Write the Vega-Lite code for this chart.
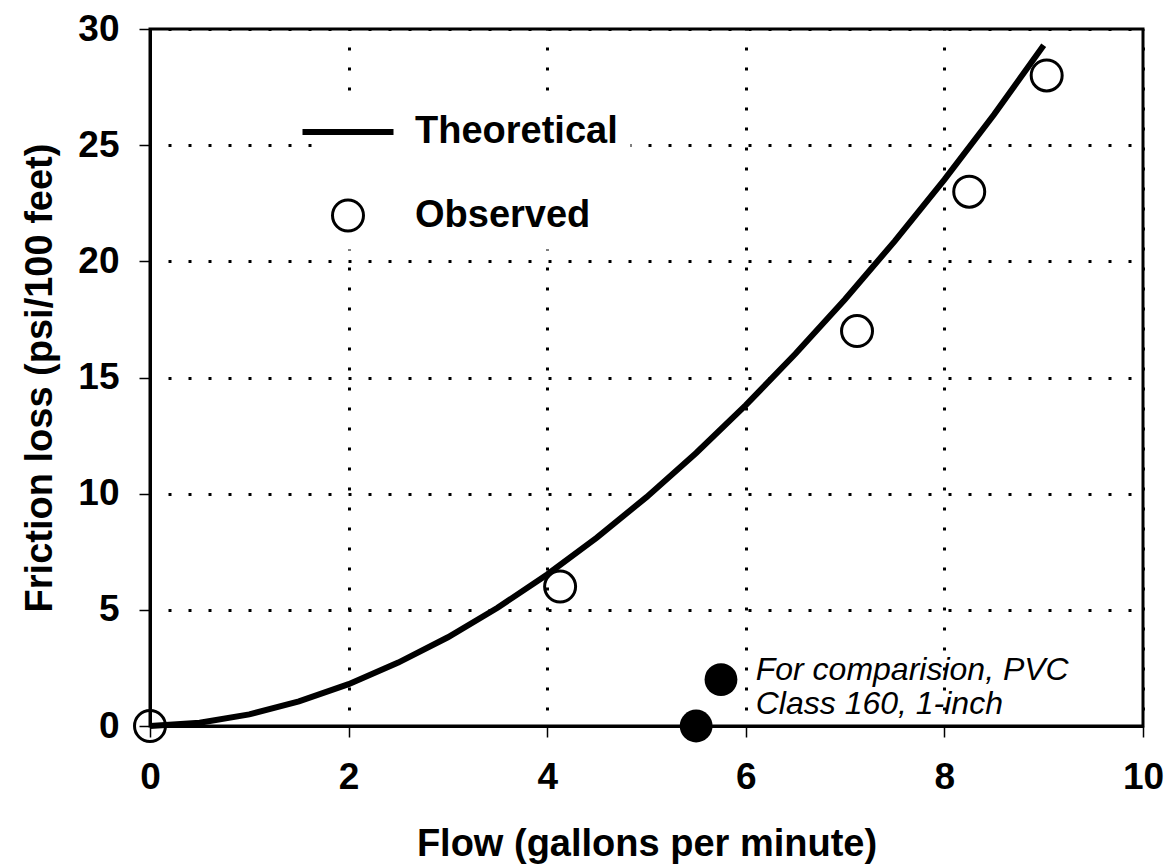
{
  "$schema": "https://vega.github.io/schema/vega-lite/v6.json",
  "width": 993,
  "height": 697,
  "autosize": {"type": "none"},
  "padding": {"left": 150, "top": 29, "right": 23, "bottom": 139},
  "background": "white",
  "config": {
    "view": {"stroke": "black", "strokeWidth": 3},
    "font": "Liberation Sans",
    "axis": {
      "grid": true,
      "gridColor": "black",
      "gridWidth": 3,
      "gridDash": [3, 17],
      "gridDashOffset": 2,
      "gridOpacity": 1,
      "domainColor": "black",
      "domainWidth": 3,
      "tickColor": "black",
      "tickWidth": 1.5,
      "tickSize": 11,
      "labelFont": "Liberation Sans",
      "labelFontWeight": "bold",
      "labelFontSize": 37,
      "labelColor": "black",
      "labelOverlap": false,
      "labelFlush": false,
      "titleFont": "Liberation Sans",
      "titleFontWeight": "bold",
      "titleFontSize": 38,
      "titleColor": "black"
    }
  },
  "datasets": {
    "curve": [
      {"flow": 0, "loss": 0},
      {"flow": 0.5, "loss": 0.14},
      {"flow": 1, "loss": 0.5},
      {"flow": 1.5, "loss": 1.06},
      {"flow": 2, "loss": 1.8},
      {"flow": 2.5, "loss": 2.73},
      {"flow": 3, "loss": 3.82},
      {"flow": 3.5, "loss": 5.09},
      {"flow": 4, "loss": 6.52},
      {"flow": 4.5, "loss": 8.11},
      {"flow": 5, "loss": 9.85},
      {"flow": 5.5, "loss": 11.75},
      {"flow": 6, "loss": 13.81},
      {"flow": 6.5, "loss": 16.02},
      {"flow": 7, "loss": 18.37},
      {"flow": 7.5, "loss": 20.87},
      {"flow": 8, "loss": 23.52},
      {"flow": 8.5, "loss": 26.32},
      {"flow": 9, "loss": 29.3}
    ],
    "obs": [
      {"flow": 0, "loss": 0, "series": "Observed"},
      {"flow": 4.13, "loss": 6, "series": "Observed"},
      {"flow": 7.12, "loss": 17, "series": "Observed"},
      {"flow": 8.25, "loss": 23, "series": "Observed"},
      {"flow": 9.03, "loss": 28, "series": "Observed"}
    ],
    "pvc": [
      {"flow": 5.5, "loss": 0},
      {"flow": 5.75, "loss": 2}
    ],
    "note": [
      {"flow": 6.1, "loss": 2.4, "text": "For comparision, PVC"},
      {"flow": 6.1, "loss": 0.95, "text": "Class 160, 1-inch"}
    ]
  },
  "layer": [
    {
      "data": {"name": "curve"},
      "mark": {"type": "line", "color": "black", "strokeWidth": 6, "strokeCap": "butt", "clip": false},
      "encoding": {
        "x": {
          "field": "flow", "type": "quantitative",
          "scale": {"domain": [0, 10], "nice": false},
          "axis": {"values": [0, 2, 4, 6, 8, 10], "title": "Flow (gallons per minute)", "labelPadding": 22, "titlePadding": 30, "format": "d"}
        },
        "y": {
          "field": "loss", "type": "quantitative",
          "scale": {"domain": [0, 30], "nice": false},
          "axis": {"values": [0, 5, 10, 15, 20, 25, 30], "title": "Friction loss (psi/100 feet)", "labelPadding": 20, "titlePadding": 18, "format": "d"}
        }
      }
    },
    {
      "data": {"name": "obs"},
      "mark": {"type": "point", "filled": false, "stroke": "black", "opacity": 1},
      "encoding": {
        "x": {"field": "flow", "type": "quantitative"},
        "y": {"field": "loss", "type": "quantitative"},
        "shape": {
          "field": "series", "type": "nominal",
          "scale": {"domain": ["Theoretical", "Observed"], "range": ["M-2.6,0H2.6", "circle"]},
          "legend": {
            "orient": "none",
            "legendX": 165.5,
            "legendY": 70.5,
            "title": null,
            "padding": 12,
            "fillColor": "white",
            "labelFont": "Liberation Sans",
            "labelFontWeight": "bold",
            "labelFontSize": 38,
            "labelColor": "black",
            "labelOffset": 46.5,
            "labelLimit": 400,
            "rowPadding": 42,
            "symbolStrokeColor": "black",
            "symbolOpacity": 1
          }
        },
        "size": {
          "field": "series", "type": "nominal",
          "scale": {"domain": ["Theoretical", "Observed"], "range": [1225, 960]}
        },
        "strokeWidth": {
          "field": "series", "type": "nominal",
          "scale": {"domain": ["Theoretical", "Observed"], "range": [6, 3]}
        }
      }
    },
    {
      "data": {"name": "pvc"},
      "mark": {"type": "circle", "color": "black", "size": 1075, "opacity": 1},
      "encoding": {
        "x": {"field": "flow", "type": "quantitative"},
        "y": {"field": "loss", "type": "quantitative"}
      }
    },
    {
      "data": {"name": "note"},
      "mark": {"type": "text", "align": "left", "baseline": "middle", "font": "Liberation Sans", "fontStyle": "italic", "fontSize": 32, "color": "black"},
      "encoding": {
        "x": {"field": "flow", "type": "quantitative"},
        "y": {"field": "loss", "type": "quantitative"},
        "text": {"field": "text"}
      }
    }
  ]
}
